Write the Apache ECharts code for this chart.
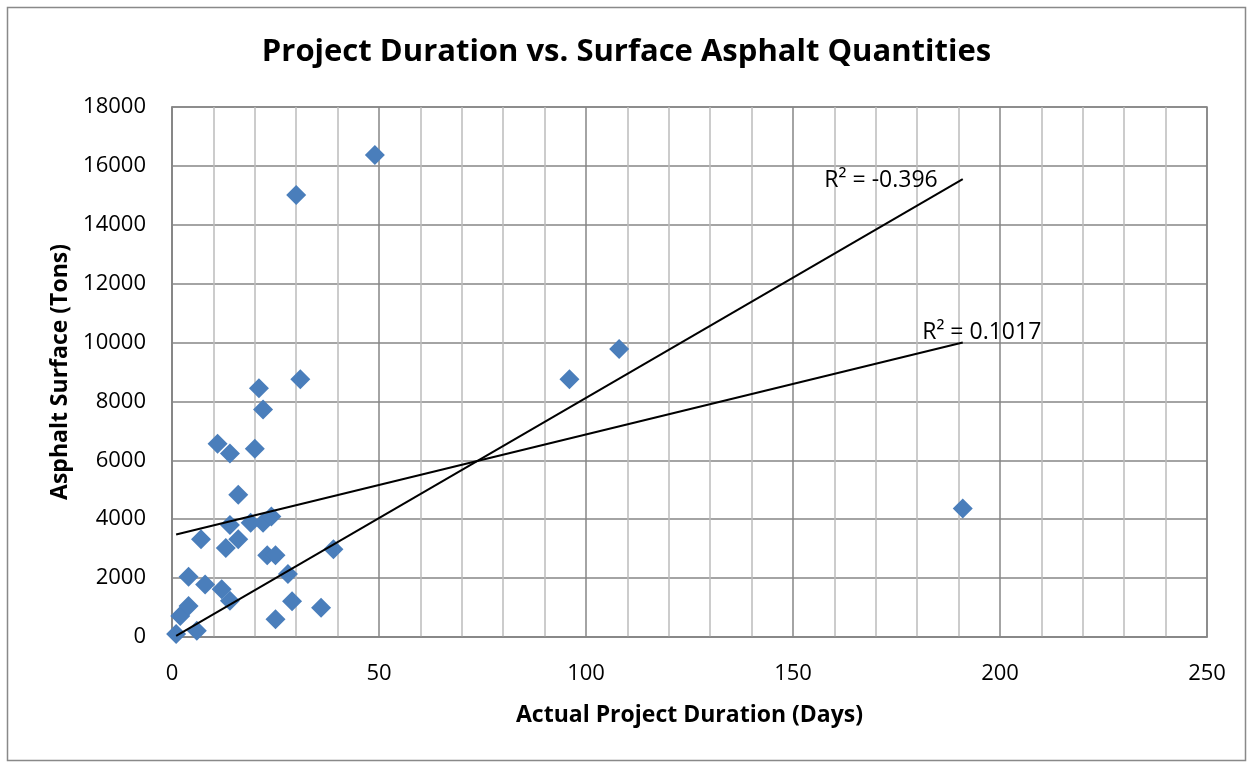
<!DOCTYPE html>
<html>
<head>
<meta charset="utf-8">
<script src="https://cdn.jsdelivr.net/npm/echarts@6/dist/echarts.min.js"></script>
<style>
    html, body { margin: 0; padding: 0; background: #fff; }
    #chart { width: 1253px; height: 763px; }
</style>
</head>
<body>
<div id="chart"></div>
<script>
// durations (days) and surface asphalt (tons)
const durations = [1, 2, 4, 4, 6, 7, 8, 11, 12, 13, 14, 14, 14, 16, 16, 19, 20, 21, 22, 22, 23, 24, 25, 25, 28, 29, 30, 31, 36, 39, 49, 96, 108, 191];
const tons = [100, 710, 1050, 2050, 210, 3320, 1780, 6560, 1620, 3020, 1230, 3800, 6230, 3320, 4830, 3880, 6390, 8450, 3880, 7730, 2780, 4090, 600, 2780, 2140, 1210, 15010, 8750, 990, 2980, 16370, 8750, 9780, 4360];

// trendline end points
const trendLinearX = [1, 191];
const trendLinearY = [3480, 10000];
const trendOriginX = [1, 191];
const trendOriginY = [40, 15550];
const trendLabels = ["R² = 0.1017", "R² = -0.396"];

const xTicks = { min: 0, max: 250, interval: 50 };
const yTicks = { min: 0, max: 18000, interval: 2000 };

const FONT = "Open Sans";

const zip = (xs, ys) => xs.map((x, i) => [x, ys[i]]);

const trendData = (xs, ys, text, labelOpt) => {
    let pts = zip(xs, ys);
    return pts.map((p, i) => {
        if (i < pts.length - 1) {
            return { value: p };
        }
        return {
            value: p,
            label: Object.assign({
                show: true,
                formatter: text,
                color: "#000",
                fontFamily: FONT,
                fontSize: 23
            }, labelOpt)
        };
    });
};

const chart = echarts.init(document.getElementById("chart"));

const option = {
    backgroundColor: "#fff",
    animation: false,
    title: {
        text: "Project Duration vs. Surface Asphalt Quantities",
        left: "center",
        top: 32,
        textStyle: {
            fontFamily: FONT,
            fontWeight: "bold",
            fontSize: 31,
            color: "#000"
        }
    },
    graphic: [
        {
            type: "rect",
            shape: { x: 7.5, y: 7.5, width: 1238, height: 753 },
            style: { fill: "none", stroke: "#898989", lineWidth: 1.5 },
            silent: true
        }
    ],
    grid: {
        left: 172,
        right: 46,
        top: 107,
        bottom: 126,
        show: true,
        borderColor: "#868686",
        borderWidth: 1.5
    },
    xAxis: {
        type: "value",
        min: xTicks.min,
        max: xTicks.max,
        interval: xTicks.interval,
        name: "Actual Project Duration (Days)",
        nameLocation: "middle",
        nameGap: 67,
        nameTextStyle: {
            fontFamily: FONT,
            fontWeight: "bold",
            fontSize: 23,
            color: "#000"
        },
        axisLine: { show: true, lineStyle: { color: "#868686", width: 1.5 } },
        axisTick: { show: false },
        axisLabel: {
            margin: 26,
            fontFamily: FONT,
            fontSize: 22,
            color: "#000",
            formatter: v => String(v)
        },
        splitLine: { show: true, lineStyle: { color: "#868686", width: 1.5 } },
        minorTick: { show: false, splitNumber: 5 },
        minorSplitLine: { show: true, lineStyle: { color: "#bcbcbc", width: 1.5 } }
    },
    yAxis: {
        type: "value",
        min: yTicks.min,
        max: yTicks.max,
        interval: yTicks.interval,
        name: "Asphalt Surface (Tons)",
        nameLocation: "middle",
        nameGap: 100,
        nameTextStyle: {
            fontFamily: FONT,
            fontWeight: "bold",
            fontSize: 23,
            color: "#000"
        },
        axisLine: { show: true, lineStyle: { color: "#868686", width: 1.5 } },
        axisTick: { show: false },
        axisLabel: {
            margin: 26,
            fontFamily: FONT,
            fontSize: 22,
            color: "#000",
            formatter: v => String(v)
        },
        splitLine: { show: true, lineStyle: { color: "#868686", width: 1.5 } }
    },
    series: [
        {
            name: "Asphalt Surface",
            type: "scatter",
            symbol: "diamond",
            symbolSize: 20,
            itemStyle: { color: "#4a7ebb", opacity: 1 },
            data: zip(durations, tons),
            z: 3
        },
        {
            name: "Linear",
            type: "line",
            symbol: "circle",
            symbolSize: 0.1,
            showSymbol: true,
            itemStyle: { color: "rgba(0,0,0,0)" },
            lineStyle: { color: "#000", width: 2 },
            data: trendData(trendLinearX, trendLinearY, trendLabels[0], {
                position: "top",
                distance: 0,
                offset: [19, 1]
            }),
            z: 4
        },
        {
            name: "Through origin",
            type: "line",
            symbol: "circle",
            symbolSize: 0.1,
            showSymbol: true,
            itemStyle: { color: "rgba(0,0,0,0)" },
            lineStyle: { color: "#000", width: 2 },
            data: trendData(trendOriginX, trendOriginY, trendLabels[1], {
                position: "left",
                distance: 25,
                offset: [0, 1]
            }),
            z: 4
        }
    ]
};

chart.setOption(option);
</script>
</body>
</html>
